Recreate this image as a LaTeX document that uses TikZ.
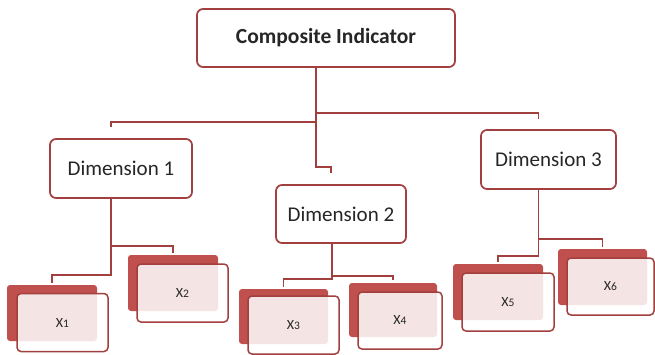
\documentclass[tikz,border=0pt]{standalone}
\usepackage{fontspec}
\setmainfont{Carlito}
\usepackage{tikz}
\definecolor{boxred}{HTML}{A23F3F}
\definecolor{shadowred}{HTML}{C0504D}
\definecolor{labelgray}{HTML}{262626}
\newcommand{\itemlabel}[1]{X{\fontsize{11.5}{12}\selectfont #1}}
\tikzset{
  font={\fontsize{21pt}{24pt}\selectfont},
  link/.style={draw=boxred, line width=1.7pt},
  headbox/.style={draw=boxred, line width=1.7pt, rounded corners=6pt, fill=white,
    text=labelgray, inner sep=0pt},
  shadowbox/.style={fill=shadowred, rounded corners=3pt, inner sep=0pt,
    minimum width=90pt, minimum height=56pt},
  itembox/.style={draw=boxred, line width=1.5pt, rounded corners=4pt, fill=white,
    fill opacity=0.85, text opacity=1, text=labelgray, inner sep=0pt,
    minimum width=91pt, minimum height=58pt, font={\fontsize{14pt}{16pt}\selectfont}}}

\begin{document}
\begin{tikzpicture}[x=1pt,y=-1pt]
\useasboundingbox (0,0) rectangle (655,354);
% head and dimensions
\node[headbox, minimum width=258pt, minimum height=58pt, font={\fontsize{21.5pt}{24pt}\selectfont\bfseries}] (top) at (326,38) {Composite Indicator};
\node[headbox, minimum width=142pt, minimum height=59pt] (dim1) at (121,168.5) {Dimension 1};
\node[headbox, minimum width=130pt, minimum height=58pt] (dim2) at (341,214) {Dimension 2};
\node[headbox, minimum width=135pt, minimum height=59pt] (dim3) at (548.5,159.5) {Dimension 3};
% shadows
\node[shadowbox] (s1) at (52,313) {};
\node[shadowbox] (s2) at (173,283) {};
\node[shadowbox, minimum width=89pt, minimum height=55pt] (s3) at (283.5,316.5) {};
\node[shadowbox, minimum width=88pt, minimum height=54pt] (s4) at (393,310) {};
\node[shadowbox] (s5) at (498,292) {};
\node[shadowbox, minimum width=89pt] (s6) at (602.5,277) {};
% items
\node[itembox] (x1) at (62.5,322.5) {\itemlabel{1}};
\node[itembox] (x2) at (182.5,293) {\itemlabel{2}};
\node[itembox] (x3) at (293.5,325) {\itemlabel{3}};
\node[itembox, minimum width=84pt, minimum height=57pt] (x4) at (400,320.5) {\itemlabel{4}};
\node[itembox, minimum width=92pt] (x5) at (508,302) {\itemlabel{5}};
\node[itembox, minimum width=87pt, minimum height=57pt] (x6) at (610.5,286.5) {\itemlabel{6}};
% connectors
\draw[link] ([xshift=-10pt]top.south) -- ++(0,99) -| ([xshift=-10pt,yshift=11pt]dim2.north);
\draw[link] ([xshift=-10pt]top.south) ++(0,54) -| ([xshift=-10pt,yshift=11pt]dim1.north);
\draw[link] ([xshift=-10pt]top.south) ++(0,45) -| ([xshift=-10pt,yshift=10pt]dim3.north);
\draw[link] ([xshift=-10pt]dim1.south) -- ++(0,76) -| ([yshift=2pt]s1.north);
\draw[link] ([xshift=-10pt]dim1.south) ++(0,47) -| ([yshift=2pt]s2.north);
\draw[link] ([xshift=-9pt]dim2.south) -- ++(0,35) -| ([yshift=2pt]s3.north);
\draw[link] ([xshift=-9pt]dim2.south) ++(0,32) -| ([yshift=3pt]s4.north);
\draw[link] ([xshift=-10pt]dim3.south) -- ++(0,66) -| ([yshift=2pt]s5.north);
\draw[link] ([xshift=-10pt]dim3.south) ++(0,49) -| ([yshift=2pt]s6.north);
\end{tikzpicture}
\end{document}
